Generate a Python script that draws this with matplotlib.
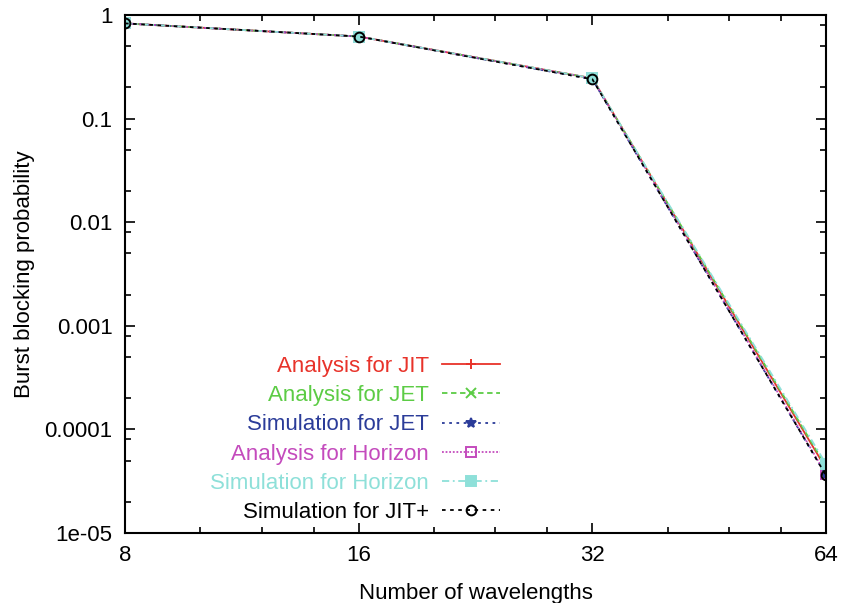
import numpy as np
import matplotlib.pyplot as plt
from matplotlib.ticker import FixedLocator, NullFormatter, LogLocator

plt.rcParams['font.family'] = ['Liberation Sans', 'DejaVu Sans']

# Data
wavelengths = [8, 16, 32, 64]
analysis_jit = [0.83, 0.62, 0.245, 4.2e-5]
analysis_jet = [0.83, 0.62, 0.245, 4.4e-5]
sim_jet = [0.83, 0.62, 0.240, 3.6e-5]
analysis_horizon = [0.83, 0.62, 0.245, 3.7e-5]
sim_horizon = [0.83, 0.62, 0.245, 4.65e-5]
sim_jit_plus = [0.83, 0.62, 0.240, 3.6e-5]

series = [
    ("Analysis for JIT", analysis_jit, '#e8332a', '-', '+', 'full'),
    ("Analysis for JET", analysis_jet, '#5ccc45', (0, (3, 2)), 'x', 'full'),
    ("Simulation for JET", sim_jet, '#2b3c99', (0, (1.5, 2.5)), '*', 'full'),
    ("Analysis for Horizon", analysis_horizon, '#c44bbd', (0, (1, 1)), 's', 'none'),
    ("Simulation for Horizon", sim_horizon, '#8ee0d9', (0, (4, 2, 1, 2)), 's', 'full'),
    ("Simulation for JIT+", sim_jit_plus, 'black', (0, (2, 2.5)), 'o', 'none'),
]

fig = plt.figure(figsize=(8.43, 6.03), dpi=100)
ax = fig.add_axes([0.1483, 0.1161, 0.8315, 0.8590])

for label, vals, color, ls, marker, fill in series:
    ax.plot(wavelengths, vals, color=color, linestyle=ls, linewidth=1.3,
            marker=marker, markersize=7, fillstyle=fill, markeredgewidth=1.4,
            label=label)

ax.set_xscale('log', base=2)
ax.set_yscale('log')
ax.set_xlim(8, 64)
ax.set_ylim(1e-5, 1)

ax.xaxis.set_major_locator(FixedLocator(wavelengths))
ax.xaxis.set_major_formatter(plt.FuncFormatter(lambda v, p: '%d' % v))
ax.xaxis.set_minor_locator(FixedLocator([10, 12, 14, 20, 24, 28, 40, 48, 56]))
ax.xaxis.set_minor_formatter(NullFormatter())

ytick_vals = [1e-5, 1e-4, 1e-3, 1e-2, 0.1, 1]
ytick_labels = ['1e-05', '0.0001', '0.001', '0.01', '0.1', '1']
ax.set_yticks(ytick_vals)
ax.set_yticklabels(ytick_labels)
ax.yaxis.set_minor_locator(LogLocator(base=10, subs=[2, 5, 8]))
ax.yaxis.set_minor_formatter(NullFormatter())

ax.tick_params(which='both', direction='in', top=True, right=True,
               labelsize=16, width=1.2)
ax.tick_params(which='major', length=7, pad=9)
ax.tick_params(which='minor', length=4)
for s in ax.spines.values():
    s.set_linewidth(1.5)

ax.set_xlabel('Number of wavelengths', fontsize=16, labelpad=12)
ax.set_ylabel('Burst blocking probability', fontsize=16, labelpad=7)

leg = ax.legend(loc='upper right', bbox_to_anchor=(0.535, 0.342),
                frameon=False, markerfirst=False, fontsize=16,
                handlelength=2.6, handletextpad=0.6, labelspacing=0.37,
                borderpad=0, borderaxespad=0)
for text, (_, _, color, _, _, _) in zip(leg.get_texts(), series):
    text.set_color(color)

fig.savefig('out.png', dpi=100)
